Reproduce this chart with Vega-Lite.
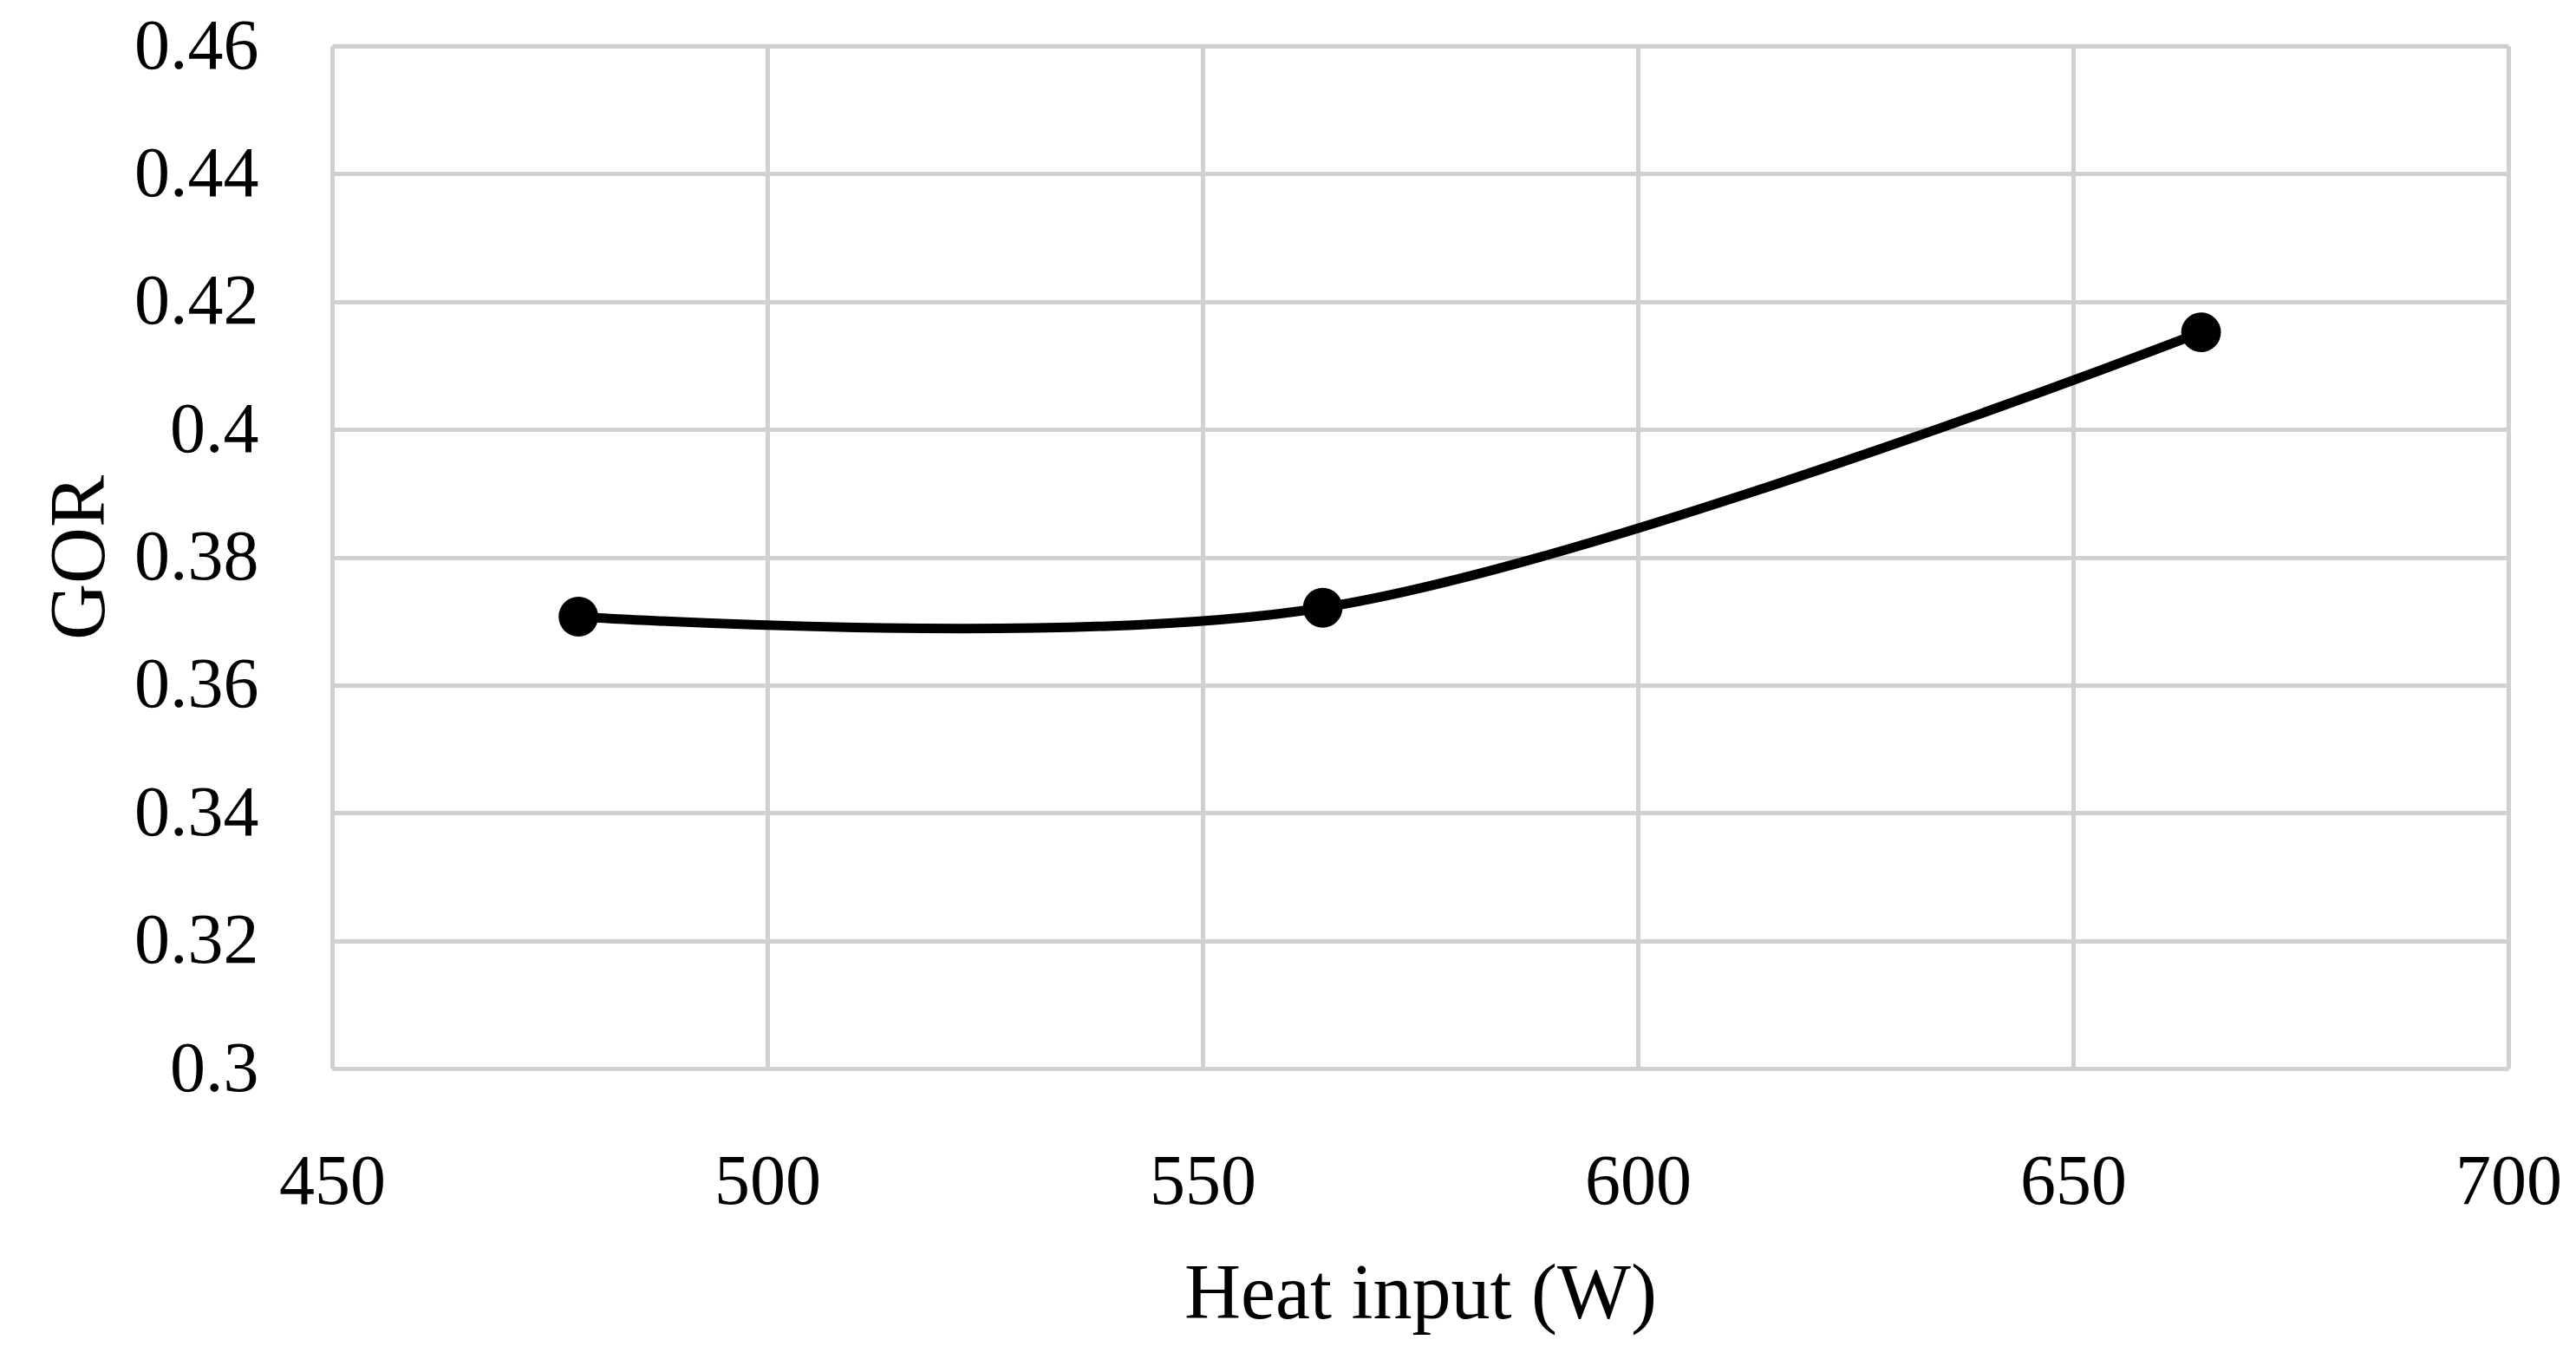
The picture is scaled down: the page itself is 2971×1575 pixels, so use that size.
{
  "$schema": "https://vega.github.io/schema/vega-lite/v6.json",
  "autosize": {"type": "none"},
  "width": 2510,
  "height": 1179,
  "padding": {"left": 383, "top": 53, "right": 78, "bottom": 343},
  "background": "white",
  "config": {"view": {"stroke": null}, "font": "Liberation Serif"},
  "data": {"values": [
    {"heat": 478.3, "gor": 0.3707},
    {"heat": 563.8, "gor": 0.3721},
    {"heat": 664.7, "gor": 0.4152}
  ]},
  "encoding": {
    "x": {"field": "heat", "type": "quantitative",
      "scale": {"domain": [450, 700], "nice": false, "zero": false},
      "axis": {"title": "Heat input (W)", "values": [450, 500, 550, 600, 650, 700],
        "grid": true, "gridColor": "#d0d0d0", "gridWidth": 5, "ticks": false, "labelFlush": false,
        "domainColor": "#d0d0d0", "domainWidth": 5,
        "labelFontSize": 82, "labelColor": "black", "labelPadding": 90,
        "titleFontSize": 90, "titleFontWeight": "normal", "titleColor": "black", "titlePadding": 45}},
    "y": {"field": "gor", "type": "quantitative",
      "scale": {"domain": [0.3, 0.46], "nice": false, "zero": false},
      "axis": {"title": "GOR", "values": [0.3, 0.32, 0.34, 0.36, 0.38, 0.4, 0.42, 0.44, 0.46],
        "format": "~g",
        "grid": true, "gridColor": "#d0d0d0", "gridWidth": 5, "ticks": false, "domain": false,
        "labelFontSize": 82, "labelColor": "black", "labelPadding": 85,
        "titleFontSize": 90, "titleFontWeight": "normal", "titleColor": "black", "titlePadding": 45}}
  },
  "layer": [
    {"mark": {"type": "line", "interpolate": "catmull-rom", "color": "black", "strokeWidth": 11}},
    {"mark": {"type": "point", "filled": true, "color": "black", "opacity": 1, "size": 2100}}
  ]
}
